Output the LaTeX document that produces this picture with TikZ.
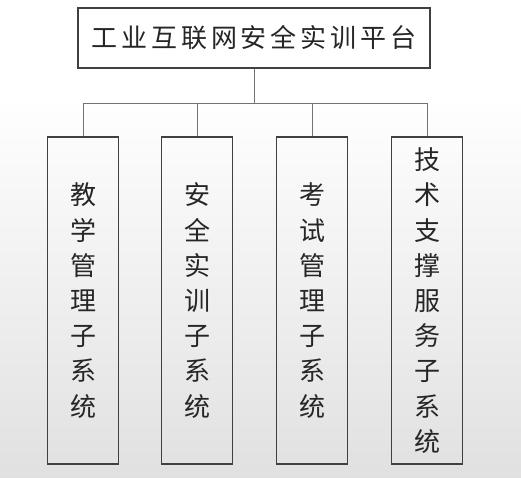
\documentclass[tikz,border=0pt]{standalone}
\usepackage{fontspec}
\newfontfamily\cjk{Noto Sans CJK SC}
\newfontfamily\cjkwide{Noto Sans CJK SC}[LetterSpace=15]
\usetikzlibrary{positioning}

\begin{document}
\begin{tikzpicture}[
  x=0.75pt, y=-0.75pt,
  platbox/.style={draw=black!75, line width=1.1pt, fill=white, minimum width=264pt, minimum height=45pt,
    inner sep=0pt, text=black!85, font=\cjkwide\fontsize{19.5pt}{24pt}\selectfont},
  sysbox/.style={draw=black!75, line width=1.1pt, minimum width=53.25pt, minimum height=245.25pt,
    inner sep=0pt, align=center, text=black!85, font=\cjk\fontsize{19.5pt}{26.4pt}\selectfont,
    execute at begin node={\rule{0pt}{23pt}}},
  link/.style={draw=black!55, line width=0.75pt}
]
  \useasboundingbox (0,0) rectangle (521,478);
  % background
  \fill[white] (0,0) rectangle (521,95);
  \shade[top color=white, bottom color=black!12] (0,95) rectangle (521,478);

  \node[platbox] (plat) at (254,38) {工业互联网安全实训平台};

  \node[sysbox] (jx) at (83,300.5) {教\\学\\管\\理\\子\\系\\统};
  \node[sysbox] (aq) at (197,300.5) {安\\全\\实\\训\\子\\系\\统};
  \node[sysbox] (ks) at (312,300.5) {考\\试\\管\\理\\子\\系\\统};
  \node[sysbox] (js) at (427,300.5) {技\\术\\支\\撑\\服\\务\\子\\系\\统};

  % connectors
  \coordinate (bus) at (254,103);
  \draw[link] (plat.south) -- (bus);
  \foreach \n in {jx,aq,ks,js}
    \draw[link] (\n.north) |- (bus);
\end{tikzpicture}
\end{document}
